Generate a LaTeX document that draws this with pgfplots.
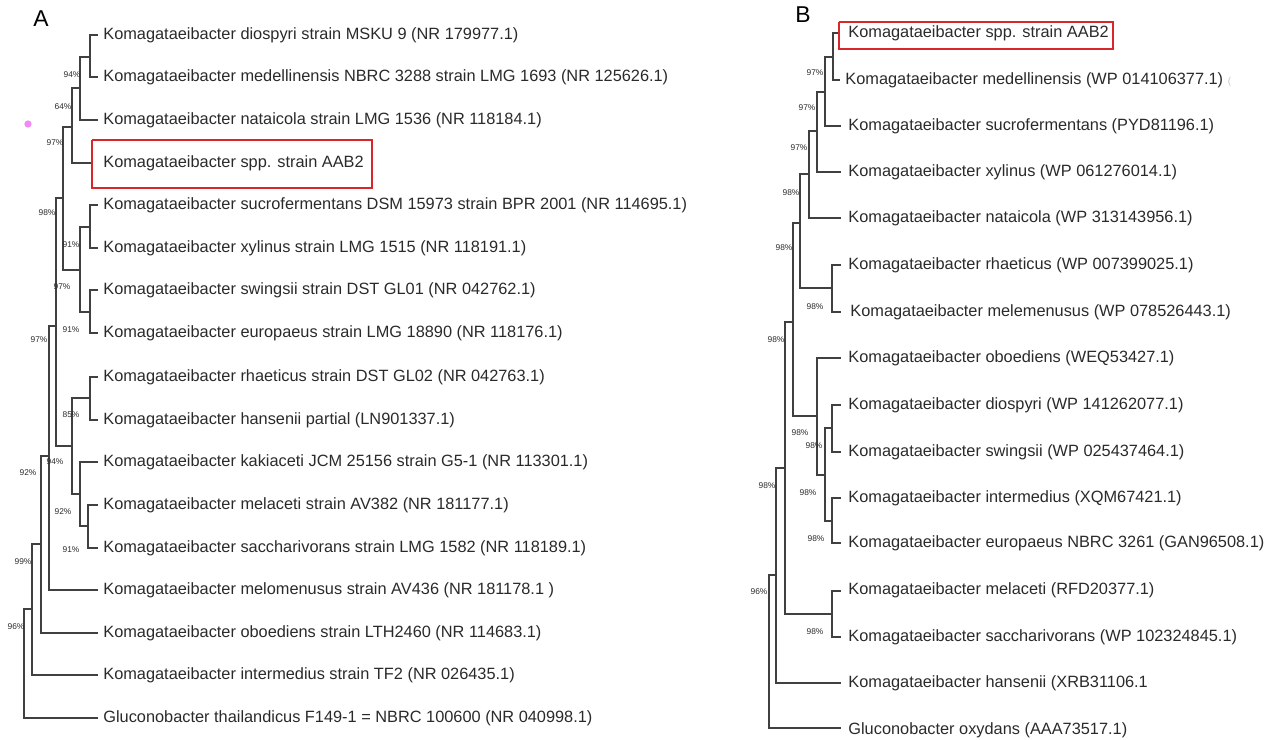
\documentclass[border=0pt]{standalone}
\usepackage{pgfplots}
\pgfplotsset{compat=1.18}
\usepackage{fontspec}
\setmainfont{Liberation Sans}
\definecolor{txt}{HTML}{2A2A2A}
\definecolor{ln}{HTML}{404040}
\definecolor{boxred}{HTML}{D8262B}
\definecolor{pink}{HTML}{F08CF0}
\newcommand{\leafA}[2]{\node[anchor=west,inner sep=0pt,text=txt,font=\fontsize{8.2}{9}\selectfont] at (axis cs:103,#1) {#2};}
\newcommand{\leafB}[3][848]{\node[anchor=west,inner sep=0pt,text=txt,font=\fontsize{8.2}{9}\selectfont] at (axis cs:#1,#2) {#3};}
\newcommand{\bs}[3]{\node[inner sep=0pt,text=txt,font=\fontsize{4.2}{5}\selectfont] at (axis cs:#1,#2) {#3\%};}
\begin{document}
\begin{tikzpicture}
\begin{axis}[
  scale only axis, width=635.5bp, height=370bp,
  xmin=0, xmax=1271, ymin=0, ymax=740, y dir=reverse,
  hide axis, clip=false, unbounded coords=jump]
\addplot[draw=none] coordinates {(0,0) (1271,740)};
% ---------- Tree A ----------
\addplot[ln, line width=0.6pt, line cap=rect] coordinates {
 (90,35) (97,35) (nan,nan) (90,77) (97,77) (nan,nan)
 (80,120) (97,120) (nan,nan) (72,163) (92,163) (nan,nan)
 (90,205) (97,205) (nan,nan) (90,248) (97,248) (nan,nan)
 (90,290) (97,290) (nan,nan) (90,333) (97,333) (nan,nan)
 (90,377) (97,377) (nan,nan) (90,420) (97,420) (nan,nan)
 (80,462) (97,462) (nan,nan) (88,505) (97,505) (nan,nan)
 (88,548) (97,548) (nan,nan) (49,590) (97,590) (nan,nan)
 (41,633) (97,633) (nan,nan) (32,675) (97,675) (nan,nan)
 (24,718) (97,718) (nan,nan)
 (90,35) (90,77) (nan,nan) (80,57) (90,57) (nan,nan)
 (80,57) (80,120) (nan,nan) (72,88) (80,88) (nan,nan)
 (72,88) (72,163) (nan,nan) (63,127) (72,127) (nan,nan)
 (90,205) (90,248) (nan,nan) (80,227) (90,227) (nan,nan)
 (90,290) (90,333) (nan,nan) (80,312) (90,312) (nan,nan)
 (80,227) (80,312) (nan,nan) (63,270) (80,270) (nan,nan)
 (63,127) (63,270) (nan,nan) (56,198) (63,198) (nan,nan)
 (90,377) (90,420) (nan,nan) (72,398) (90,398) (nan,nan)
 (88,505) (88,548) (nan,nan) (80,526) (88,526) (nan,nan)
 (80,462) (80,526) (nan,nan) (72,494) (80,494) (nan,nan)
 (72,398) (72,494) (nan,nan) (56,446) (72,446) (nan,nan)
 (56,198) (56,446) (nan,nan) (49,326) (56,326) (nan,nan)
 (49,326) (49,590) (nan,nan) (41,456) (49,456) (nan,nan)
 (41,456) (41,633) (nan,nan) (32,544) (41,544) (nan,nan)
 (32,544) (32,675) (nan,nan) (24,609) (32,609) (nan,nan)
 (24,609) (24,718)
};
% ---------- Tree B ----------
\addplot[ln, line width=0.6pt, line cap=rect] coordinates {
 (833,33) (839,33) (nan,nan) (833,80) (839,80) (nan,nan)
 (825,126) (840,126) (nan,nan) (817,172) (840,172) (nan,nan)
 (809,218) (840,218) (nan,nan) (832,265) (840,265) (nan,nan)
 (832,312) (840,312) (nan,nan) (817,358) (840,358) (nan,nan)
 (832,405) (840,405) (nan,nan) (832,452) (840,452) (nan,nan)
 (832,498) (840,498) (nan,nan) (832,543) (840,543) (nan,nan)
 (832,591) (840,591) (nan,nan) (832,637) (840,637) (nan,nan)
 (776,683) (840,683) (nan,nan) (769,728) (840,728) (nan,nan)
 (833,33) (833,80) (nan,nan) (825,57) (833,57) (nan,nan)
 (825,57) (825,126) (nan,nan) (817,92) (825,92) (nan,nan)
 (817,92) (817,172) (nan,nan) (809,131) (817,131) (nan,nan)
 (809,131) (809,218) (nan,nan) (800,174) (809,174) (nan,nan)
 (832,265) (832,312) (nan,nan) (800,288) (832,288) (nan,nan)
 (800,174) (800,288) (nan,nan) (793,223) (800,223) (nan,nan)
 (832,405) (832,452) (nan,nan) (825,428) (832,428) (nan,nan)
 (832,498) (832,543) (nan,nan) (825,521) (832,521) (nan,nan)
 (825,428) (825,521) (nan,nan) (817,475) (825,475) (nan,nan)
 (817,358) (817,475) (nan,nan) (793,416) (817,416) (nan,nan)
 (793,223) (793,416) (nan,nan) (785,322) (793,322) (nan,nan)
 (832,591) (832,637) (nan,nan) (785,614) (832,614) (nan,nan)
 (785,322) (785,614) (nan,nan) (776,468) (785,468) (nan,nan)
 (776,468) (776,683) (nan,nan) (769,575) (776,575) (nan,nan)
 (769,575) (769,728)
};
% red boxes
\addplot[boxred, line width=1.1pt] coordinates {(92,140) (372,140) (372,188) (92,188) (92,140)};
\addplot[boxred, line width=1.1pt] coordinates {(839,22) (1113,22) (1113,49) (839,49) (839,22)};
% pink dot
\addplot[only marks, mark=*, mark size=1.6pt, color=pink] coordinates {(28,124)};
% panel letters
\node[text=black,font=\fontsize{11.5}{12}\selectfont] at (axis cs:41,19) {A};
\node[text=black,font=\fontsize{11.5}{12}\selectfont] at (axis cs:803,15) {B};
% leaf labels A
\leafA{35}{Komagataeibacter diospyri strain MSKU 9 (NR 179977.1)}
\leafA{77}{Komagataeibacter medellinensis NBRC 3288 strain LMG 1693 (NR 125626.1)}
\leafA{120}{Komagataeibacter nataicola strain LMG 1536 (NR 118184.1)}
\leafA{163}{Komagataeibacter spp. strain AAB2}
\leafA{205}{Komagataeibacter sucrofermentans DSM 15973 strain BPR 2001 (NR 114695.1)}
\leafA{248}{Komagataeibacter xylinus strain LMG 1515 (NR 118191.1)}
\leafA{290}{Komagataeibacter swingsii strain DST GL01 (NR 042762.1)}
\leafA{333}{Komagataeibacter europaeus strain LMG 18890 (NR 118176.1)}
\leafA{377}{Komagataeibacter rhaeticus strain DST GL02 (NR 042763.1)}
\leafA{420}{Komagataeibacter hansenii partial (LN901337.1)}
\leafA{462}{Komagataeibacter kakiaceti JCM 25156 strain G5-1 (NR 113301.1)}
\leafA{505}{Komagataeibacter melaceti strain AV382 (NR 181177.1)}
\leafA{548}{Komagataeibacter saccharivorans strain LMG 1582 (NR 118189.1)}
\leafA{590}{Komagataeibacter melomenusus strain AV436 (NR 181178.1 )}
\leafA{633}{Komagataeibacter oboediens strain LTH2460 (NR 114683.1)}
\leafA{675}{Komagataeibacter intermedius strain TF2 (NR 026435.1)}
\leafA{718}{Gluconobacter thailandicus F149-1 = NBRC 100600 (NR 040998.1)}
% leaf labels B
\leafB{33}{Komagataeibacter spp. strain AAB2}
\leafB[845]{80}{Komagataeibacter medellinensis (WP 014106377.1) \textcolor{gray!45}{\fontsize{5}{6}\selectfont(}}
\leafB{126}{Komagataeibacter sucrofermentans (PYD81196.1)}
\leafB{172}{Komagataeibacter xylinus (WP 061276014.1)}
\leafB{218}{Komagataeibacter nataicola (WP 313143956.1)}
\leafB{265}{Komagataeibacter rhaeticus (WP 007399025.1)}
\leafB[850]{312}{Komagataeibacter melemenusus (WP 078526443.1)}
\leafB{358}{Komagataeibacter oboediens (WEQ53427.1)}
\leafB{405}{Komagataeibacter diospyri (WP 141262077.1)}
\leafB{452}{Komagataeibacter swingsii (WP 025437464.1)}
\leafB{498}{Komagataeibacter intermedius (XQM67421.1)}
\leafB{543}{Komagataeibacter europaeus NBRC 3261 (GAN96508.1)}
\leafB{590}{Komagataeibacter melaceti (RFD20377.1)}
\leafB{637}{Komagataeibacter saccharivorans (WP 102324845.1)}
\leafB{683}{Komagataeibacter hansenii (XRB31106.1}
\leafB{730}{Gluconobacter oxydans (AAA73517.1)}
% bootstrap A
\bs{72}{75}{94}
\bs{63}{107}{64}
\bs{55}{143}{97}
\bs{47}{213}{98}
\bs{71}{245}{91}
\bs{62}{287}{97}
\bs{71}{330}{91}
\bs{39}{340}{97}
\bs{71}{415}{85}
\bs{55}{462}{94}
\bs{63}{512}{92}
\bs{71}{550}{91}
\bs{28}{473}{92}
\bs{23}{562}{99}
\bs{16}{627}{96}
% bootstrap B
\bs{815}{73}{97}
\bs{807}{108}{97}
\bs{799}{148}{97}
\bs{791}{193}{98}
\bs{784}{248}{98}
\bs{815}{307}{98}
\bs{776}{340}{98}
\bs{800}{433}{98}
\bs{814}{446}{98}
\bs{808}{493}{98}
\bs{816}{539}{98}
\bs{767}{486}{98}
\bs{815}{632}{98}
\bs{759}{592}{96}
\end{axis}
\end{tikzpicture}
\end{document}
